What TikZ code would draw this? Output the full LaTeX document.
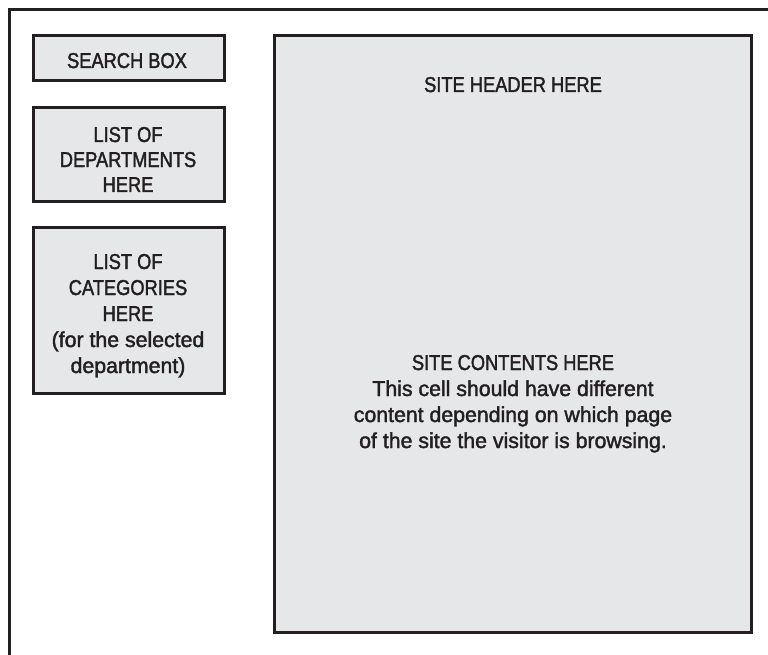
\documentclass[tikz,border=0pt]{standalone}
\usepackage{fontspec}
\setmainfont[FakeStretch=0.85,FakeBold=1.8]{Liberation Sans}
\newfontfamily\lowerfont[FakeStretch=0.99,FakeBold=1.8]{Liberation Sans}
\definecolor{ink}{HTML}{231F20}
\definecolor{panel}{HTML}{E6E7E8}
\begin{document}
\begin{tikzpicture}[x=1pt,y=-1pt,
  box/.style={draw=ink,fill=panel,line width=3pt,rectangle,inner sep=0pt},
  lbl/.style={text=ink,align=center,anchor=base,inner sep=0pt,font={\fontsize{21.5}{26}\selectfont}}]
\useasboundingbox (0,0) rectangle (768,655);
% outer frame (top and left edges)
\coordinate (fbl) at (9,655);
\coordinate (ftl) at (9,10);
\coordinate (ftr) at (768,10);
\draw[ink,line width=3pt] (fbl) -- (ftl) -- (ftr);
% boxes
\node[box,minimum width=191pt,minimum height=45pt] (search) at (129,58) {};
\node[box,minimum width=191pt,minimum height=94pt] (dept) at (129,154.5) {};
\node[box,minimum width=191pt,minimum height=166pt] (cat) at (129,310.5) {};
\node[box,minimum width=477pt,minimum height=597pt] (main) at (513,334) {};
% texts (anchor base = baseline of the last line)
\node[lbl] (tsearch) at (127,68) {SEARCH BOX};
\node[lbl,font={\fontsize{21.5}{25}\selectfont}] (tdept) at (128,192) {LIST OF\\DEPARTMENTS\\HERE};
\node[lbl] (tcat) at (128,373) {LIST OF\\CATEGORIES\\HERE\\{\lowerfont (for the selected}\\{\lowerfont department)}};
\node[lbl] (thead) at (513,92) {SITE HEADER HERE};
\node[lbl] (tcont) at (513,448) {SITE CONTENTS HERE\\{\lowerfont This cell should have different}\\{\lowerfont content depending on which page}\\{\lowerfont of the site the visitor is browsing.}};
\end{tikzpicture}
\end{document}
